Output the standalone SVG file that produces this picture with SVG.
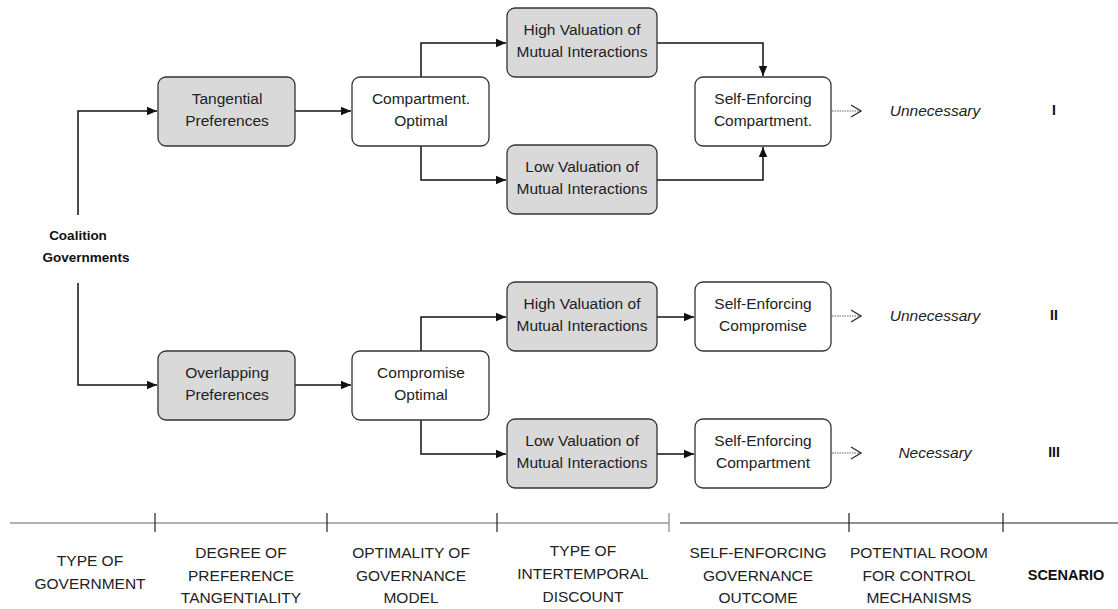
<svg xmlns="http://www.w3.org/2000/svg" width="1118" height="609" viewBox="0 0 1118 609">
<defs>
<marker id="ah" viewBox="0 0 10 10" refX="10" refY="5" markerWidth="10" markerHeight="10" markerUnits="userSpaceOnUse" orient="auto">
<path d="M0,0.8 L10,5 L0,9.2 Z" fill="#111"/>
</marker>
<marker id="oh" viewBox="0 0 12 14" refX="11" refY="7" markerWidth="12" markerHeight="14" markerUnits="userSpaceOnUse" orient="auto">
<path d="M1,1 L11,7 L1,13" fill="none" stroke="#333" stroke-width="1.3"/>
</marker>
</defs>
<style>
.g{fill:#d9d9d9;stroke:#333;stroke-width:1.3}
.w{fill:#fff;stroke:#333;stroke-width:1.3}
.t{font-family:"Liberation Sans",Arial,sans-serif;font-size:15.5px;fill:#222;text-anchor:middle}
.b{font-family:"Liberation Sans",Arial,sans-serif;font-weight:bold;fill:#111;text-anchor:middle}
.i{font-family:"Liberation Sans",Arial,sans-serif;font-style:italic;font-size:15.5px;fill:#222;text-anchor:middle}
.c{fill:none;stroke:#111;stroke-width:1.5}
.d{fill:none;stroke:#666;stroke-width:1.2;stroke-dasharray:1.5 1}
.ax{fill:none;stroke:#222;stroke-width:1.2}
</style>
<rect width="1118" height="609" fill="#fff"/>
<g id="connectors">
<path class="c" d="M78,215 V111 H157" marker-end="url(#ah)"/>
<path class="c" d="M78,283 V385 H157" marker-end="url(#ah)"/>
<path class="c" d="M295,111 H351" marker-end="url(#ah)"/>
<path class="c" d="M295,385 H351" marker-end="url(#ah)"/>
<path class="c" d="M421,77 V43 H506" marker-end="url(#ah)"/>
<path class="c" d="M421,146 V180 H506" marker-end="url(#ah)"/>
<path class="c" d="M657,43 H763 V76" marker-end="url(#ah)"/>
<path class="c" d="M657,180 H763 V147" marker-end="url(#ah)"/>
<path class="c" d="M421,351 V317 H506" marker-end="url(#ah)"/>
<path class="c" d="M421,420 V454 H506" marker-end="url(#ah)"/>
<path class="c" d="M657,317 H694" marker-end="url(#ah)"/>
<path class="c" d="M657,454 H694" marker-end="url(#ah)"/>
<path class="d" d="M832,111 H861" marker-end="url(#oh)"/>
<path class="d" d="M832,316 H861" marker-end="url(#oh)"/>
<path class="d" d="M832,453 H861" marker-end="url(#oh)"/>
</g>
<g id="coalition">
<text class="b" x="78" y="240" font-size="13.5">Coalition</text>
<text class="b" x="86" y="262" font-size="13.5">Governments</text>
</g>
<g id="tangential"><rect class="g" x="158" y="77" width="137" height="69" rx="8"/><text class="t" x="227" y="104">Tangential</text><text class="t" x="227" y="126">Preferences</text></g>
<g id="compartOptimal"><rect class="w" x="352" y="77" width="137" height="69" rx="8"/><text class="t" x="421" y="104">Compartment.</text><text class="t" x="421" y="126">Optimal</text></g>
<g id="high1"><rect class="g" x="507" y="8" width="150" height="69" rx="8"/><text class="t" x="582" y="35">High Valuation of</text><text class="t" x="582" y="57">Mutual Interactions</text></g>
<g id="low1"><rect class="g" x="507" y="145" width="150" height="69" rx="8"/><text class="t" x="582" y="172">Low Valuation of</text><text class="t" x="582" y="194">Mutual Interactions</text></g>
<g id="seCompart1"><rect class="w" x="695" y="77" width="136" height="69" rx="8"/><text class="t" x="763" y="104">Self-Enforcing</text><text class="t" x="763" y="126">Compartment.</text></g>
<g id="overlapping"><rect class="g" x="158" y="351" width="137" height="69" rx="8"/><text class="t" x="227" y="378">Overlapping</text><text class="t" x="227" y="400">Preferences</text></g>
<g id="compromiseOptimal"><rect class="w" x="352" y="351" width="137" height="69" rx="8"/><text class="t" x="421" y="378">Compromise</text><text class="t" x="421" y="400">Optimal</text></g>
<g id="high2"><rect class="g" x="507" y="282" width="150" height="69" rx="8"/><text class="t" x="582" y="309">High Valuation of</text><text class="t" x="582" y="331">Mutual Interactions</text></g>
<g id="low2"><rect class="g" x="507" y="419" width="150" height="69" rx="8"/><text class="t" x="582" y="446">Low Valuation of</text><text class="t" x="582" y="468">Mutual Interactions</text></g>
<g id="seCompromise"><rect class="w" x="695" y="282" width="136" height="69" rx="8"/><text class="t" x="763" y="309">Self-Enforcing</text><text class="t" x="763" y="331">Compromise</text></g>
<g id="seCompart2"><rect class="w" x="695" y="419" width="136" height="69" rx="8"/><text class="t" x="763" y="446">Self-Enforcing</text><text class="t" x="763" y="468">Compartment</text></g>
<g id="outcomes">
<text class="i" x="935" y="116">Unnecessary</text>
<text class="i" x="935" y="321">Unnecessary</text>
<text class="i" x="935" y="458">Necessary</text>
<text class="b" x="1054" y="115" font-size="14">I</text>
<text class="b" x="1054" y="320" font-size="14">II</text>
<text class="b" x="1054" y="457" font-size="14">III</text>
</g>
<g id="axis">
<path d="M10,523 H669" stroke="#666" stroke-width="1.2" fill="none"/>
<path class="ax" d="M680,523 H1118"/>
<path class="ax" d="M155,513 V532 M327,513 V532 M497,513 V532 M849,513 V532 M1003,513 V532"/>
<path d="M669,513 V532" stroke="#888" stroke-width="1.2"/>
<text class="t" x="90" y="566">TYPE OF</text><text class="t" x="90" y="589">GOVERNMENT</text>
<text class="t" x="241" y="558">DEGREE OF</text><text class="t" x="241" y="581">PREFERENCE</text><text class="t" x="241" y="603">TANGENTIALITY</text>
<text class="t" x="411" y="558">OPTIMALITY OF</text><text class="t" x="411" y="581">GOVERNANCE</text><text class="t" x="411" y="603">MODEL</text>
<text class="t" x="583" y="556">TYPE OF</text><text class="t" x="583" y="579">INTERTEMPORAL</text><text class="t" x="583" y="602">DISCOUNT</text>
<text class="t" x="758" y="558">SELF-ENFORCING</text><text class="t" x="758" y="581">GOVERNANCE</text><text class="t" x="758" y="603">OUTCOME</text>
<text class="t" x="919" y="558">POTENTIAL ROOM</text><text class="t" x="919" y="581">FOR CONTROL</text><text class="t" x="919" y="603">MECHANISMS</text>
<text class="b" x="1066" y="580" font-size="14.5">SCENARIO</text>
</g>
</svg>
